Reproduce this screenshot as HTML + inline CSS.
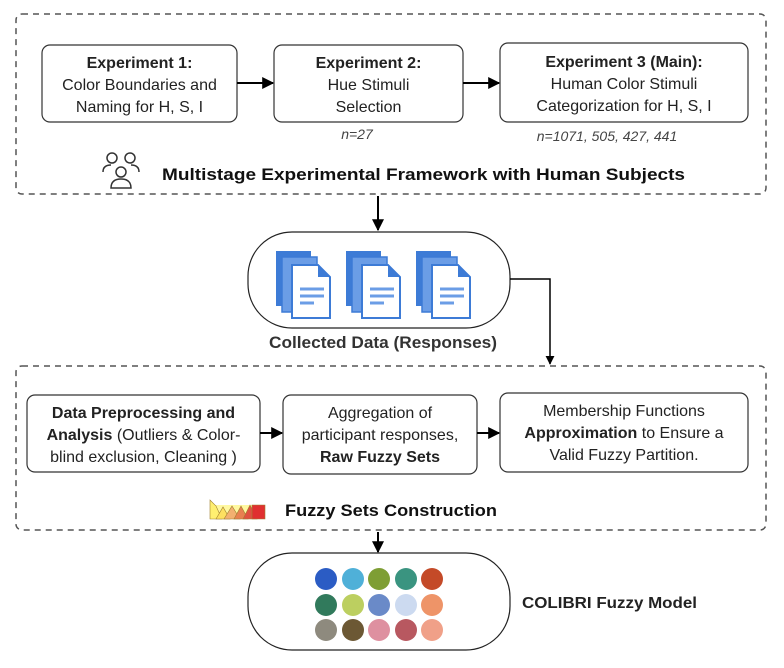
<!DOCTYPE html>
<html><head><meta charset="utf-8"><style>
html,body{margin:0;padding:0;background:#fff;width:784px;height:668px;overflow:hidden}
svg{display:block;font-family:"Liberation Sans",sans-serif}
.t{font-size:16px;fill:#222;text-anchor:middle}
.b{font-weight:bold}
</style></head><body>
<svg width="784" height="668" viewBox="0 0 784 668" xmlns="http://www.w3.org/2000/svg">
<defs><marker id="ar" viewBox="0 0 10 10" refX="9" refY="5" markerWidth="6" markerHeight="6" orient="auto"><path d="M0,0L10,5L0,10z" fill="#000"/></marker></defs>
<rect x="16" y="14" width="750" height="180" rx="6" fill="none" stroke="#555" stroke-width="1.5" stroke-dasharray="6,5"/>
<rect x="42" y="45" width="195" height="77" rx="8" fill="#fff" stroke="#333" stroke-width="1.2"/>
<rect x="274" y="45" width="189" height="77" rx="8" fill="#fff" stroke="#333" stroke-width="1.2"/>
<rect x="500" y="43" width="248" height="79" rx="8" fill="#fff" stroke="#333" stroke-width="1.2"/>
<text class="t b" x="139.5" y="68">Experiment 1:</text>
<text class="t" x="139.5" y="90">Color Boundaries and</text>
<text class="t" x="139.5" y="112">Naming for H, S, I</text>
<text class="t b" x="368.5" y="68">Experiment 2:</text>
<text class="t" x="368.5" y="90">Hue Stimuli</text>
<text class="t" x="368.5" y="112">Selection</text>
<text class="t b" x="624" y="67">Experiment 3 (Main):</text>
<text class="t" x="624" y="89">Human Color Stimuli</text>
<text class="t" x="624" y="111">Categorization for H, S, I</text>
<line x1="237" y1="83" x2="273" y2="83" stroke="#000" stroke-width="2" marker-end="url(#ar)"/>
<line x1="463" y1="83" x2="499" y2="83" stroke="#000" stroke-width="2" marker-end="url(#ar)"/>
<text x="357" y="139" style="font-size:14px;font-style:italic;fill:#444;text-anchor:middle">n=27</text>
<text x="607" y="141" style="font-size:14px;font-style:italic;fill:#444;text-anchor:middle">n=1071, 505, 427, 441</text>
<g fill="none" stroke="#333" stroke-width="1.5">
<circle cx="112" cy="158" r="5"/><circle cx="130" cy="158" r="5"/><circle cx="121" cy="172" r="5"/>
<path d="M103,172 q0,-7 8,-7 M139,172 q0,-7 -8,-7 M111,188 q0,-9 10,-9 q10,0 10,9 z"/>
</g>
<text class="b" x="162" y="180" textLength="523" lengthAdjust="spacingAndGlyphs" style="font-size:17px;fill:#111">Multistage Experimental Framework with Human Subjects</text>
<line x1="378" y1="196" x2="378" y2="230" stroke="#000" stroke-width="2" marker-end="url(#ar)"/>
<rect x="248" y="232" width="262" height="96" rx="44" fill="#fff" stroke="#222" stroke-width="1.2"/>
<g>
<g id="doc">
<path d="M276,251h35v55h-35z" fill="#3d7bd6"/>
<path d="M282,257h35v55h-35z" fill="#6b9de6" stroke="#3d7bd6" stroke-width="1.5"/>
<path d="M292,265h26l12,12v41h-38z" fill="#fff" stroke="#3d7bd6" stroke-width="2"/>
<path d="M318,265v12h12z" fill="#3d7bd6"/>
<path d="M300,289h24M300,296h24M300,303h14" stroke="#6b9de6" stroke-width="3"/>
</g>
<use href="#doc" x="70"/><use href="#doc" x="140"/>
</g>
<text class="b" x="269" y="348" textLength="228" lengthAdjust="spacingAndGlyphs" style="font-size:16.5px;fill:#333">Collected Data (Responses)</text>
<polyline points="510,279 550,279 550,364" fill="none" stroke="#000" stroke-width="1.5" marker-end="url(#ar)"/>
<rect x="16" y="366" width="750" height="164" rx="6" fill="none" stroke="#555" stroke-width="1.5" stroke-dasharray="6,5"/>
<rect x="27" y="395" width="233" height="77" rx="8" fill="#fff" stroke="#333" stroke-width="1.2"/>
<rect x="283" y="395" width="194" height="79" rx="8" fill="#fff" stroke="#333" stroke-width="1.2"/>
<rect x="500" y="393" width="248" height="79" rx="8" fill="#fff" stroke="#333" stroke-width="1.2"/>
<text class="t b" x="143.5" y="418">Data Preprocessing and</text>
<text class="t" x="143.5" y="440"><tspan class="b">Analysis</tspan> (Outliers &amp; Color-</text>
<text class="t" x="143.5" y="462">blind exclusion, Cleaning )</text>
<text class="t" x="380" y="418">Aggregation of</text>
<text class="t" x="380" y="440">participant responses,</text>
<text class="t b" x="380" y="462">Raw Fuzzy Sets</text>
<text class="t" x="624" y="416">Membership Functions</text>
<text class="t" x="624" y="438"><tspan class="b">Approximation</tspan> to Ensure a</text>
<text class="t" x="624" y="460">Valid Fuzzy Partition.</text>
<line x1="260" y1="433" x2="282" y2="433" stroke="#000" stroke-width="2" marker-end="url(#ar)"/>
<line x1="477" y1="433" x2="499" y2="433" stroke="#000" stroke-width="2" marker-end="url(#ar)"/>
<g stroke="#a08030" stroke-width="0.6">
<rect x="210" y="505" width="55" height="14" fill="#fff8a0" stroke="none"/>
<path d="M210,519V500l6,6l6,13z" fill="#ffef70"/>
<path d="M216,519l7,-12l7,12z" fill="#fde060"/>
<path d="M224,519l8,-13l8,13z" fill="#f3b070"/>
<path d="M234,519l7,-13l7,13z" fill="#e88050"/>
<path d="M243,519l7,-14l7,14z" fill="#e05040"/>
<path d="M252,519v-14h13v14z" fill="#e03030"/>
</g>
<text class="b" x="285" y="516" textLength="212" lengthAdjust="spacingAndGlyphs" style="font-size:17px;fill:#111">Fuzzy Sets Construction</text>
<line x1="378" y1="532" x2="378" y2="552" stroke="#000" stroke-width="2" marker-end="url(#ar)"/>
<rect x="248" y="553" width="262" height="97" rx="44" fill="#fff" stroke="#222" stroke-width="1.2"/>
<g>
<circle cx="326" cy="579" r="11" fill="#2b5cc4"/><circle cx="353" cy="579" r="11" fill="#4fb0d8"/><circle cx="379" cy="579" r="11" fill="#7e9e34"/><circle cx="406" cy="579" r="11" fill="#3a9480"/><circle cx="432" cy="579" r="11" fill="#c44a28"/>
<circle cx="326" cy="605" r="11" fill="#317a5c"/><circle cx="353" cy="605" r="11" fill="#bccf60"/><circle cx="379" cy="605" r="11" fill="#6a8ac8"/><circle cx="406" cy="605" r="11" fill="#ccdaf0"/><circle cx="432" cy="605" r="11" fill="#ee9468"/>
<circle cx="326" cy="630" r="11" fill="#8e8a7e"/><circle cx="353" cy="630" r="11" fill="#6c5834"/><circle cx="379" cy="630" r="11" fill="#de90a0"/><circle cx="406" cy="630" r="11" fill="#b85860"/><circle cx="432" cy="630" r="11" fill="#f0a088"/>
</g>
<text class="b" x="522" y="608" textLength="175" lengthAdjust="spacingAndGlyphs" style="font-size:16px;fill:#222">COLIBRI Fuzzy Model</text>
</svg>
</body></html>
